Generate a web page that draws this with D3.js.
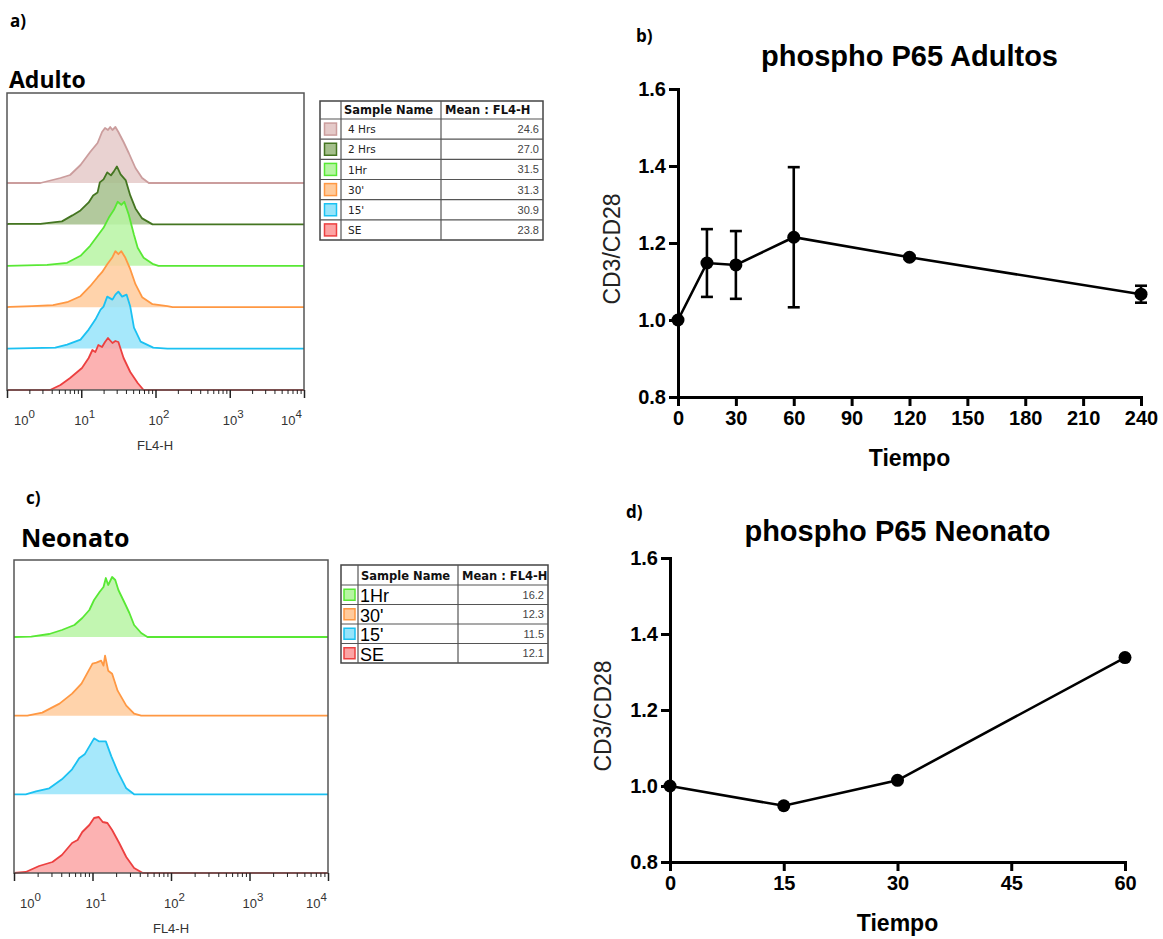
<!DOCTYPE html>
<html>
<head>
<meta charset="utf-8">
<script src="https://cdn.jsdelivr.net/npm/d3@7"></script>
<style>
  body { margin: 0; background: #fff; }
  svg { display: block; }
</style>
</head>
<body>
<svg id="fig" width="1163" height="939"></svg>
<script>
// ---- histogram data (a, c): [log10 FL4-H, events] ----
const adultSamples = ["4 Hrs", "2 Hrs", "1Hr", "30'", "15'", "SE"];
const adultMeans = ["24.6", "27.0", "31.5", "31.3", "30.9", "23.8"];
const adultHist = [
  [[0.45,0],[0.72,5],[0.85,8],[0.99,18],[1.12,31],[1.22,40],[1.28,51],[1.32,55],[1.36,53],[1.39,56],[1.42,53],[1.46,56],[1.5,51],[1.57,41],[1.64,30],[1.73,15],[1.82,5],[1.91,0]],
  [[0.02,0.5],[0.45,0.5],[0.62,2],[0.74,3],[0.88,9],[0.99,14],[1.1,22],[1.16,29],[1.22,32],[1.25,42],[1.3,45],[1.35,52],[1.4,49],[1.44,53],[1.48,58],[1.53,50],[1.6,44],[1.66,29],[1.73,16],[1.82,6],[1.96,0]],
  [[0.54,1],[0.81,3],[0.99,10],[1.12,20],[1.23,31],[1.3,38],[1.37,48],[1.44,56],[1.49,64],[1.54,61],[1.58,64],[1.64,51],[1.71,31],[1.76,18],[1.84,8],[1.96,2],[2.04,0]],
  [[0.04,0.3],[0.34,1],[0.62,2],[0.81,5],[0.99,11],[1.12,21],[1.22,30],[1.28,35],[1.35,43],[1.42,50],[1.46,56],[1.5,53],[1.54,56],[1.59,50],[1.66,38],[1.73,23],[1.82,10],[1.96,3],[2.16,1],[2.23,0]],
  [[0.65,1],[0.81,4],[0.99,9],[1.1,19],[1.19,29],[1.26,39],[1.3,42],[1.35,52],[1.42,49],[1.46,54],[1.5,57],[1.55,52],[1.61,54],[1.66,42],[1.71,21],[1.8,7],[1.97,1],[2.16,0]],
  [[0.58,0],[0.72,5],[0.85,12],[1.01,22],[1.1,32],[1.15,40],[1.19,38],[1.23,45],[1.28,43],[1.32,48],[1.36,52],[1.42,47],[1.46,49],[1.5,48],[1.57,32],[1.66,18],[1.76,7],[1.84,0]]
];
const neoSamples = ["1Hr", "30'", "15'", "SE"];
const neoMeans = ["16.2", "12.3", "11.5", "12.1"];
const neoHist = [
  [[0.22,0.3],[0.45,3],[0.61,7],[0.77,12],[0.87,19],[0.96,27],[1.02,37],[1.09,45],[1.14,50],[1.17,59],[1.2,52],[1.25,60],[1.29,57],[1.33,47],[1.41,34],[1.47,24],[1.53,12],[1.62,4],[1.7,0]],
  [[0.17,0],[0.36,3],[0.58,12],[0.74,22],[0.86,32],[0.93,42],[1.0,52],[1.05,53],[1.11,55],[1.14,50],[1.16,60],[1.2,45],[1.25,42],[1.32,25],[1.43,10],[1.53,2],[1.62,0]],
  [[0.15,0],[0.28,3],[0.45,6],[0.61,15],[0.74,25],[0.83,36],[0.9,40],[0.96,48],[1.02,56],[1.08,53],[1.13,53],[1.17,53],[1.24,38],[1.32,23],[1.43,6],[1.53,0]],
  [[0.15,1],[0.32,7],[0.49,11],[0.61,18],[0.74,30],[0.81,33],[0.87,41],[0.96,48],[1.02,55],[1.08,56],[1.13,51],[1.19,50],[1.25,43],[1.34,30],[1.43,16],[1.53,5],[1.64,0]]
];
const decades = [1, 10, 100, 1000, 10000];
const decadeExp = ["0", "1", "2", "3", "4"];

// ---- time course data (b, d) ----
const adultTime = [0, 15, 30, 60, 120, 240];
const adultRatio = [1.0, 1.148, 1.143, 1.215, 1.163, 1.067];
const adultErr = [0, 0.088, 0.088, 0.182, 0.004, 0.022];
const adultTicksX = [0, 30, 60, 90, 120, 150, 180, 210, 240];
const neoTime = [0, 15, 30, 60];
const neoRatio = [1.0, 0.948, 1.015, 1.338];
const neoErr = [0, 0, 0, 0];
const neoTicksX = [0, 15, 30, 45, 60];
const ratioTicks = [0.8, 1.0, 1.2, 1.4, 1.6];

const lineCol = {"4 Hrs": "#cb9d9d", "2 Hrs": "#447521", "1Hr": "#58e834", "30'": "#ff9843", "15'": "#1bc1f2", "SE": "#ec4040"};
const fillCol = {"4 Hrs": "#e5cac9", "2 Hrs": "#a5bf8c", "1Hr": "#b7f5a3", "30'": "#ffcb9c", "15'": "#97e4fa", "SE": "#fca4a4"};

const ARIAL = "'Liberation Sans', Arial, sans-serif",
  VERDANA = "'DejaVu Sans', Verdana, sans-serif",
  CALIBRI = "'Open Sans', 'Noto Sans', sans-serif";

const svg = d3.select("#fig");

function label(x, y, txt, size, family, weight) {
  return svg.append("text")
    .attr("x", x).attr("y", y)
    .attr("font-family", family)
    .attr("font-size", size)
    .attr("font-weight", weight || "bold")
    .attr("fill", "#000")
    .text(txt);
}

// flow cytometry overlay, tracks stacked bottom-up
function histogram(o) {
  const g = svg.append("g");
  const x = d3.scaleLog().domain([1, 1e4]).range([o.left, o.right]);
  const base = d3.scalePoint().domain(o.samples.slice().reverse()).range([o.bottom, o.topBase]);
  const h = d3.scaleLinear().domain([0, 60]).range([0, 60]);

  o.samples.forEach((s, i) => {
    const pts = [[0, 0]].concat(o.hist[i], [[4, 0]]),
      b = base(s);
    g.append("path")
      .attr("d", d3.area().x(d => x(10 ** d[0])).y0(b).y1(d => b - h(d[1]))(pts))
      .attr("fill", fillCol[s])
      .attr("fill-opacity", 0.85);
    g.append("path")
      .attr("d", d3.line().x(d => x(10 ** d[0])).y(d => b - h(d[1]))(pts))
      .attr("fill", "none")
      .attr("stroke", lineCol[s])
      .attr("stroke-width", 1.8)
      .attr("stroke-linejoin", "round");
  });

  g.append("rect")
    .attr("x", o.left).attr("y", o.top)
    .attr("width", o.right - o.left).attr("height", o.bottom - o.top)
    .attr("fill", "none").attr("stroke", "#555").attr("stroke-width", 1.5);

  const minor = [];
  for (let k = 0; k < 4; k++) for (let m = 2; m < 10; m++) minor.push(m * 10 ** k);

  g.append("g").attr("transform", `translate(0,${o.bottom})`).attr("color", "#222")
    .call(d3.axisBottom(x).tickValues(minor).tickSize(4).tickFormat(""))
    .call(a => a.select(".domain").remove());
  g.append("g").attr("transform", `translate(0,${o.bottom})`).attr("color", "#222")
    .call(d3.axisBottom(x).tickValues(decades).tickSize(8).tickFormat(""))
    .call(a => a.select(".domain").remove())
    .selectAll("line").attr("stroke-width", 1.5);

  decades.forEach((v, i) => {
    let cx = x(v);
    if (i === 0) cx += o.edgeShift;
    if (i === decades.length - 1) cx -= o.edgeShift + 2;
    const t = g.append("text")
      .attr("x", cx - 7).attr("y", o.bottom + 35)
      .attr("font-family", ARIAL).attr("font-size", 13).attr("fill", "#333");
    t.append("tspan").text("10");
    t.append("tspan").attr("dy", -7).attr("font-size", 11.5).text(decadeExp[i]);
  });

  g.append("text")
    .attr("x", o.labelX).attr("y", o.bottom + 60)
    .attr("text-anchor", "middle")
    .attr("font-family", ARIAL).attr("font-size", 13).attr("fill", "#333")
    .text("FL4-H");
}

function sampleTable(o) {
  const g = svg.append("g");
  const c = o.cols;
  const rows = d3.scaleBand().domain(o.samples).range([o.top + o.headH, o.bottom]);
  const rh = rows.bandwidth();

  g.append("rect")
    .attr("x", c[0]).attr("y", o.top)
    .attr("width", c[3] - c[0]).attr("height", o.bottom - o.top)
    .attr("fill", "#fff").attr("stroke", "#444").attr("stroke-width", 1.5);
  g.selectAll(".hl").data(o.samples).enter().append("line")
    .attr("x1", c[0]).attr("x2", c[3])
    .attr("y1", d => rows(d)).attr("y2", d => rows(d))
    .attr("stroke", "#555").attr("stroke-width", 1.2);
  g.selectAll(".vl").data(c.slice(1, 3)).enter().append("line")
    .attr("x1", d => d).attr("x2", d => d)
    .attr("y1", o.top).attr("y2", o.bottom)
    .attr("stroke", "#555").attr("stroke-width", 1.2);

  const head = g.append("g")
    .attr("font-family", VERDANA).attr("font-weight", "bold")
    .attr("font-size", 11.5).attr("fill", "#111");
  head.append("text").attr("x", c[1] + 3).attr("y", o.top + o.headH - 5).text("Sample Name");
  head.append("text").attr("x", c[2] + 4).attr("y", o.top + o.headH - 5).text("Mean : FL4-H");

  const sw = o.swatch;
  g.selectAll(".sw").data(o.samples).enter().append("rect")
    .attr("x", c[0] + (c[1] - c[0] - sw) / 2)
    .attr("y", d => rows(d) + (rh - sw) / 2)
    .attr("width", sw).attr("height", sw)
    .attr("fill", d => fillCol[d]).attr("stroke", d => lineCol[d]).attr("stroke-width", 1.5);

  g.selectAll(".nm").data(o.samples).enter().append("text")
    .attr("x", c[1] + o.namePad)
    .attr("y", d => rows(d) + rh - o.nameDrop)
    .attr("font-family", o.nameFont).attr("font-size", o.nameSize).attr("fill", o.nameColor)
    .text(d => d);

  g.selectAll(".mv").data(o.means).enter().append("text")
    .attr("x", c[3] - 4)
    .attr("y", (d, i) => rows(o.samples[i]) + rh / 2 + 4)
    .attr("text-anchor", "end")
    .attr("font-family", ARIAL).attr("font-size", 11).attr("fill", "#444")
    .text(d => d);
}

// Prism style time course with mean +/- error
function timeCourse(o) {
  const g = svg.append("g");
  const x = d3.scaleLinear().domain([0, o.xMax]).range([o.left, o.right]);
  const y = d3.scaleLinear().domain([0.8, 1.6]).range([o.bottom, o.top]);

  const yAxis = g.append("g").attr("transform", `translate(${o.left},0)`)
    .call(d3.axisLeft(y).tickValues(ratioTicks).tickFormat(d3.format(".1f")).tickSize(9).tickSizeOuter(0).tickPadding(3));
  const xAxis = g.append("g").attr("transform", `translate(0,${o.bottom})`)
    .call(d3.axisBottom(x).tickValues(o.ticks).tickFormat(d3.format("d")).tickSize(9).tickSizeOuter(0).tickPadding(5));
  [xAxis, yAxis].forEach(a => {
    a.selectAll("path, line").attr("stroke", "#000").attr("stroke-width", 3);
    a.select(".domain").attr("stroke-linecap", "square");
    a.selectAll("text")
      .attr("font-family", ARIAL).attr("font-weight", "bold")
      .attr("font-size", 20).attr("fill", "#000");
  });

  const pts = o.time.map((t, i) => ({t: t, v: o.ratio[i], e: o.err[i]}));

  g.append("path")
    .attr("d", d3.line().x(d => x(d.t)).y(d => y(d.v))(pts))
    .attr("fill", "none").attr("stroke", "#000").attr("stroke-width", 2.6);

  const eb = g.selectAll(".eb").data(pts.filter(d => d.e > 0)).enter().append("g")
    .attr("stroke", "#000").attr("stroke-width", 2.6);
  eb.append("line")
    .attr("x1", d => x(d.t)).attr("x2", d => x(d.t))
    .attr("y1", d => y(d.v - d.e)).attr("y2", d => y(d.v + d.e));
  [-1, 1].forEach(sgn => {
    eb.append("line")
      .attr("x1", d => x(d.t) - 6).attr("x2", d => x(d.t) + 6)
      .attr("y1", d => y(d.v + sgn * d.e)).attr("y2", d => y(d.v + sgn * d.e));
  });

  g.selectAll(".pt").data(pts).enter().append("circle")
    .attr("cx", d => x(d.t)).attr("cy", d => y(d.v)).attr("r", 6.5)
    .attr("fill", "#000");

  const cx = (o.left + o.right) / 2;
  g.append("text")
    .attr("x", cx).attr("y", o.titleY).attr("text-anchor", "middle")
    .attr("font-family", ARIAL).attr("font-weight", "bold").attr("font-size", 29)
    .text(o.title);
  g.append("text")
    .attr("x", cx).attr("y", o.bottom + 69).attr("text-anchor", "middle")
    .attr("font-family", ARIAL).attr("font-weight", "bold").attr("font-size", 23)
    .text("Tiempo");
  g.append("text")
    .attr("transform", `translate(${o.yLabelX},${(o.top + o.bottom) / 2 + 6}) rotate(-90)`)
    .attr("text-anchor", "middle").attr("dy", "0.35em")
    .attr("font-family", ARIAL).attr("font-size", 23).attr("fill", "#222")
    .text("CD3/CD28");
}

// ---- panel letters and headings ----
label(10, 27, "a)", 17, CALIBRI);
label(636, 42, "b)", 17, CALIBRI);
label(26, 504, "c)", 17, CALIBRI);
label(626, 518, "d)", 17, CALIBRI);
label(9, 88, "Adulto", 23, CALIBRI);
label(21, 547, "Neonato", 25, CALIBRI);

histogram({samples: adultSamples, hist: adultHist, left: 7, right: 304, top: 93, bottom: 390, topBase: 183, edgeShift: 14, labelX: 155});
histogram({samples: neoSamples, hist: neoHist, left: 14, right: 328, top: 560, bottom: 873, topBase: 637, edgeShift: 13, labelX: 171});

sampleTable({samples: adultSamples, means: adultMeans, cols: [320, 341, 441, 543], top: 101, headH: 18, bottom: 240,
  swatch: 12, namePad: 7, nameDrop: 6, nameFont: VERDANA, nameSize: 10.5, nameColor: "#222"});
sampleTable({samples: neoSamples, means: neoMeans, cols: [341, 358, 458, 548], top: 565, headH: 20, bottom: 663,
  swatch: 11, namePad: 2, nameDrop: 2.5, nameFont: ARIAL, nameSize: 18, nameColor: "#000"});

timeCourse({time: adultTime, ratio: adultRatio, err: adultErr, ticks: adultTicksX, xMax: 240,
  left: 678, right: 1141, top: 89, bottom: 397, titleY: 66, yLabelX: 612, title: "phospho P65 Adultos"});
timeCourse({time: neoTime, ratio: neoRatio, err: neoErr, ticks: neoTicksX, xMax: 60,
  left: 670, right: 1125, top: 558, bottom: 862, titleY: 541, yLabelX: 603, title: "phospho P65 Neonato"});
</script>
</body>
</html>
